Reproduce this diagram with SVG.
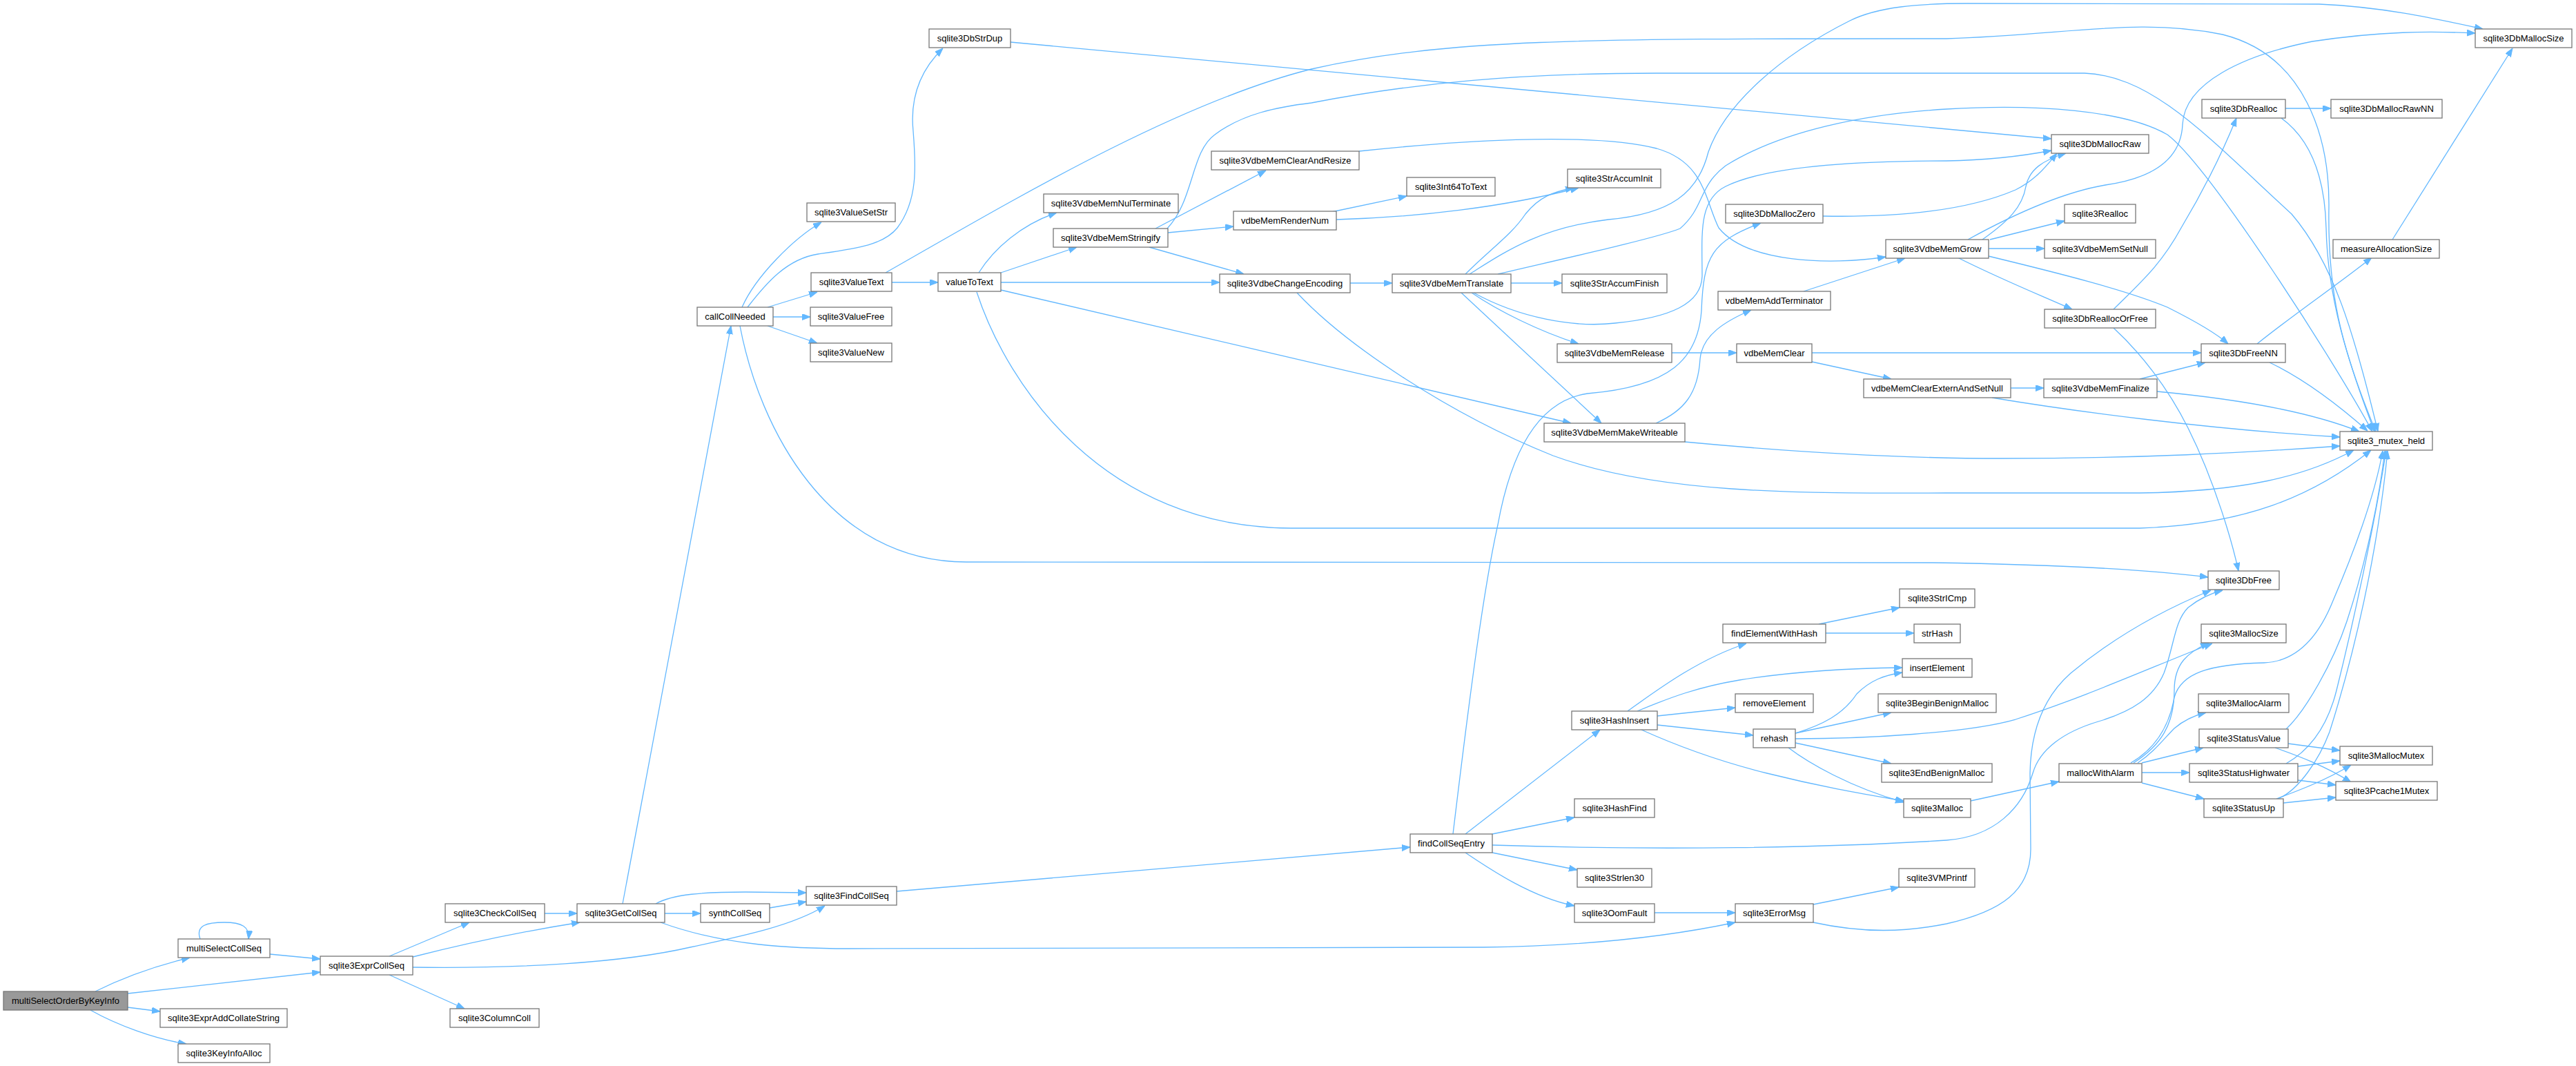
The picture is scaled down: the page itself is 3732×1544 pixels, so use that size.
<svg xmlns="http://www.w3.org/2000/svg" width="3732" height="1544" viewBox="0 0 3732 1544">
<style>
.n rect{fill:#ffffff;stroke:#777777;stroke-width:1.3}
.root rect{fill:#999999}
.n text{font-family:"Liberation Sans",Arial,sans-serif;font-size:13px;fill:#000000;text-anchor:middle}
#edges path{fill:none;stroke:#63b8ff;stroke-width:1.3;marker-end:url(#a)}
</style>
<defs>
<marker id="a" markerWidth="12" markerHeight="10" refX="12" refY="4.5" orient="auto" markerUnits="userSpaceOnUse"><path d="M0,0 L12,4.5 L0,9 z" fill="#63b8ff" stroke="#63b8ff" stroke-width="1"/></marker>
</defs>
<rect width="3732" height="1544" fill="#ffffff"/>
<g id="edges">
<path d="M138,1436 Q200,1405 275,1387"/>
<path d="M290,1360 C283,1340 300,1336 325,1336 C350,1336 362,1342 360,1360"/>
<path d="M185,1439 L464,1408"/>
<path d="M391,1382 L464,1389"/>
<path d="M185,1459 L232,1465"/>
<path d="M131,1463 C170,1485 225,1505 270,1512"/>
<path d="M564,1385 L680,1336"/>
<path d="M598,1386 Q720,1355 840,1336"/>
<path d="M598,1401 C750,1403 900,1395 1000,1372 C1080,1355 1150,1340 1195,1312"/>
<path d="M564,1412 L673,1461"/>
<path d="M789,1323 L836,1323"/>
<path d="M902,1309 L1059,472"/>
<path d="M963,1323 L1015,1323"/>
<path d="M950,1309 C975,1295 1020,1292 1080,1292 L1168,1293"/>
<path d="M957,1336 C1050,1370 1150,1374 1230,1374 L2150,1372 C2300,1370 2420,1356 2514,1336"/>
<path d="M1115,1315 L1168,1306"/>
<path d="M1299,1291 L2043,1227"/>
<path d="M1075,445 C1095,400 1150,345 1190,322"/>
<path d="M1083,445 C1110,410 1140,375 1185,368 C1240,360 1280,355 1300,330 C1330,290 1327,240 1323,190 C1318,140 1335,100 1366,70"/>
<path d="M1112,445 L1184,423"/>
<path d="M1120,459 L1174,459"/>
<path d="M1112,472 L1184,497"/>
<path d="M1072,472 C1100,620 1200,814 1400,814 L2800,815 C3000,818 3120,826 3199,836"/>
<path d="M1464,61 L2972,201"/>
<path d="M1292,409 L1359,409"/>
<path d="M1283,395 C1450,300 1700,150 1900,100 C2100,55 2300,56 2820,56 C3000,50 3100,25 3220,50 C3340,80 3375,200 3374,300 C3372,420 3390,500 3442,625"/>
<path d="M1418,395 C1440,360 1480,325 1531,308"/>
<path d="M1450,395 L1560,358"/>
<path d="M1450,409 L1767,409"/>
<path d="M1450,420 L2276,613"/>
<path d="M1415,423 C1460,560 1600,764 1870,765 L3100,765 C3250,760 3350,720 3435,652"/>
<path d="M1674,331 L1834,247"/>
<path d="M1692,337 L1787,328"/>
<path d="M1665,358 L1802,397"/>
<path d="M1691,331 C1730,290 1725,220 1760,195 C1800,165 1850,155 1900,149 C2050,120 2200,106 2400,106 L3020,106 C3120,110 3200,200 3320,310 C3380,380 3410,480 3445,625"/>
<path d="M1969,219 C2100,205 2300,190 2400,215 C2470,235 2470,290 2490,330 C2530,380 2650,385 2732,372"/>
<path d="M1929,307 L2038,284"/>
<path d="M1936,318 C2050,315 2180,300 2287,272"/>
<path d="M1956,410 L2017,410"/>
<path d="M1879,424 C1950,500 2100,600 2250,660 C2400,715 2600,715 2820,714 L3100,714 C3250,712 3340,690 3410,652"/>
<path d="M2123,397 C2160,360 2190,340 2210,310 C2230,285 2250,278 2280,272"/>
<path d="M2129,397 C2180,365 2230,330 2330,318 C2420,310 2460,280 2475,220 C2500,150 2580,80 2680,30 C2720,10 2780,5 2850,5 L3360,6 C3450,10 3520,25 3597,42"/>
<path d="M2170,397 C2250,378 2400,345 2434,331 C2470,300 2460,270 2500,240 C2580,190 2700,165 2820,158 C2950,150 3080,160 3140,195 C3200,240 3380,520 3437,625"/>
<path d="M2189,410 L2263,410"/>
<path d="M2132,424 C2170,450 2230,480 2287,498"/>
<path d="M2117,424 L2320,613"/>
<path d="M2135,424 C2200,460 2280,475 2340,468 C2420,460 2465,440 2466,400 C2466,340 2460,290 2500,270 C2560,240 2700,233 2820,233 C2880,232 2930,226 2972,218"/>
<path d="M2422,511 L2516,511"/>
<path d="M2399,613 C2440,595 2460,570 2463,520 C2466,485 2500,465 2537,449"/>
<path d="M2441,640 C2600,655 2750,664 2900,664 C3100,664 3250,656 3390,646"/>
<path d="M2105,1208 C2130,1000 2150,850 2170,760 C2190,650 2230,580 2300,570 C2420,560 2460,520 2465,450 C2468,370 2480,350 2551,323"/>
<path d="M2641,313 C2750,315 2850,305 2920,275 C2950,260 2965,240 2980,222"/>
<path d="M2613,422 L2760,374"/>
<path d="M2625,511 L3189,511"/>
<path d="M2625,524 L2740,549"/>
<path d="M2851,347 C2900,320 2980,280 3050,268 C3120,258 3160,230 3162,180 C3165,120 3250,80 3350,60 C3450,45 3520,45 3586,48"/>
<path d="M2872,347 C2910,320 2930,300 2935,270 C2940,245 2960,232 2993,222"/>
<path d="M2883,347 L2991,320"/>
<path d="M2881,360 L2962,360"/>
<path d="M2836,373 C2900,405 2950,425 3002,448"/>
<path d="M2881,371 C2980,395 3080,420 3140,445 C3180,465 3210,482 3228,498"/>
<path d="M3062,448 C3100,410 3130,385 3160,330 C3190,280 3220,220 3240,171"/>
<path d="M3062,475 C3100,510 3140,560 3170,620 C3210,700 3235,790 3243,827"/>
<path d="M3311,157 L3377,157"/>
<path d="M3305,171 C3345,200 3368,250 3370,330 C3372,430 3400,520 3440,625"/>
<path d="M3466,347 L3640,70"/>
<path d="M3270,498 C3330,450 3390,410 3436,373"/>
<path d="M3288,525 C3330,545 3380,580 3430,624"/>
<path d="M2913,562 L2961,562"/>
<path d="M2886,576 C3000,595 3200,622 3390,633"/>
<path d="M3100,549 L3195,525"/>
<path d="M3125,567 C3200,574 3330,590 3418,625"/>
<path d="M2123,1208 L2318,1057"/>
<path d="M2162,1208 L2281,1184"/>
<path d="M2162,1235 L2285,1260"/>
<path d="M2123,1235 C2160,1260 2220,1300 2281,1312"/>
<path d="M2162,1224 C2400,1232 2650,1228 2820,1217 C2890,1212 2930,1170 2945,1120 C2955,1085 2990,1060 3040,1045 C3090,1030 3120,1010 3135,975 C3150,935 3150,900 3170,880 C3185,868 3200,860 3220,855"/>
<path d="M2627,1336 C2700,1352 2760,1350 2820,1338 C2900,1320 2942,1290 2942,1230 L2941,1120 C2942,1060 2960,1010 3000,975 C3060,925 3130,885 3203,855"/>
<path d="M2358,1030 C2400,1000 2460,955 2530,932"/>
<path d="M2372,1030 C2420,1010 2460,995 2520,985 C2600,972 2680,968 2756,967"/>
<path d="M2401,1037 L2514,1025"/>
<path d="M2401,1050 L2540,1065"/>
<path d="M2378,1057 C2440,1085 2500,1105 2560,1120 C2640,1140 2700,1150 2758,1160"/>
<path d="M2635,904 L2752,880"/>
<path d="M2645,917 L2773,917"/>
<path d="M2601,1062 C2640,1050 2670,1035 2690,1005 C2710,985 2730,978 2756,974"/>
<path d="M2601,1062 L2740,1032"/>
<path d="M2601,1070 C2700,1070 2850,1062 2920,1042 C3020,1010 3120,965 3205,932"/>
<path d="M2601,1076 L2740,1106"/>
<path d="M2591,1083 C2620,1105 2680,1140 2758,1162"/>
<path d="M2397,1322 L2514,1322"/>
<path d="M2627,1310 L2751,1285"/>
<path d="M2855,1160 L2983,1132"/>
<path d="M3103,1119 L3172,1119"/>
<path d="M3103,1105 L3192,1083"/>
<path d="M3103,1134 L3193,1157"/>
<path d="M3097,1105 C3120,1090 3135,1070 3150,1055 C3165,1042 3180,1036 3196,1032"/>
<path d="M3091,1105 C3130,1080 3150,1050 3150,1000 C3150,960 3170,945 3200,931"/>
<path d="M3087,1105 C3130,1080 3145,1040 3150,1010 C3160,975 3200,962 3280,960 C3330,958 3360,920 3380,870 C3410,800 3440,720 3452,653"/>
<path d="M3315,1077 L3390,1087"/>
<path d="M3296,1083 C3330,1095 3370,1110 3406,1133"/>
<path d="M3329,1110 L3390,1102"/>
<path d="M3329,1130 L3384,1137"/>
<path d="M3308,1163 L3384,1155"/>
<path d="M3298,1157 C3330,1145 3370,1130 3406,1108"/>
<path d="M3312,1056 C3340,1030 3380,960 3400,900 C3420,840 3445,740 3455,653"/>
<path d="M3312,1106 C3340,1090 3370,1060 3385,1000 C3410,900 3440,760 3457,653"/>
<path d="M3300,1157 C3330,1145 3360,1100 3375,1060 C3410,950 3445,800 3459,653"/>
</g>
<g id="multiSelectOrderByKeyInfo" class="n root"><rect x="5" y="1436" width="180" height="27"/><text x="95" y="1454">multiSelectOrderByKeyInfo</text></g>
<g id="multiSelectCollSeq" class="n"><rect x="258" y="1360" width="133" height="27"/><text x="324.5" y="1378">multiSelectCollSeq</text></g>
<g id="sqlite3ExprCollSeq" class="n"><rect x="464" y="1385" width="134" height="27"/><text x="531" y="1403">sqlite3ExprCollSeq</text></g>
<g id="sqlite3ExprAddCollateString" class="n"><rect x="232" y="1461" width="184" height="27"/><text x="324" y="1479">sqlite3ExprAddCollateString</text></g>
<g id="sqlite3KeyInfoAlloc" class="n"><rect x="258" y="1512" width="133" height="27"/><text x="324.5" y="1530">sqlite3KeyInfoAlloc</text></g>
<g id="sqlite3CheckCollSeq" class="n"><rect x="645" y="1309" width="144" height="27"/><text x="717" y="1327">sqlite3CheckCollSeq</text></g>
<g id="sqlite3ColumnColl" class="n"><rect x="652" y="1461" width="129" height="27"/><text x="716.5" y="1479">sqlite3ColumnColl</text></g>
<g id="sqlite3GetCollSeq" class="n"><rect x="836" y="1309" width="127" height="27"/><text x="899.5" y="1327">sqlite3GetCollSeq</text></g>
<g id="callCollNeeded" class="n"><rect x="1010" y="445" width="110" height="27"/><text x="1065" y="463">callCollNeeded</text></g>
<g id="synthCollSeq" class="n"><rect x="1015" y="1309" width="100" height="27"/><text x="1065" y="1327">synthCollSeq</text></g>
<g id="sqlite3FindCollSeq" class="n"><rect x="1168" y="1284" width="131" height="27"/><text x="1233.5" y="1302">sqlite3FindCollSeq</text></g>
<g id="sqlite3DbStrDup" class="n"><rect x="1346" y="42" width="118" height="27"/><text x="1405" y="60">sqlite3DbStrDup</text></g>
<g id="sqlite3ValueSetStr" class="n"><rect x="1169" y="294" width="128" height="27"/><text x="1233" y="312">sqlite3ValueSetStr</text></g>
<g id="sqlite3ValueText" class="n"><rect x="1175" y="395" width="117" height="27"/><text x="1233.5" y="413">sqlite3ValueText</text></g>
<g id="sqlite3ValueFree" class="n"><rect x="1174" y="445" width="118" height="27"/><text x="1233" y="463">sqlite3ValueFree</text></g>
<g id="sqlite3ValueNew" class="n"><rect x="1174" y="497" width="118" height="27"/><text x="1233" y="515">sqlite3ValueNew</text></g>
<g id="valueToText" class="n"><rect x="1359" y="395" width="91" height="27"/><text x="1404.5" y="413">valueToText</text></g>
<g id="sqlite3VdbeMemNulTerminate" class="n"><rect x="1512" y="281" width="195" height="27"/><text x="1609.5" y="299">sqlite3VdbeMemNulTerminate</text></g>
<g id="sqlite3VdbeMemStringify" class="n"><rect x="1526" y="331" width="166" height="27"/><text x="1609" y="349">sqlite3VdbeMemStringify</text></g>
<g id="sqlite3VdbeMemClearAndResize" class="n"><rect x="1755" y="219" width="214" height="27"/><text x="1862" y="237">sqlite3VdbeMemClearAndResize</text></g>
<g id="vdbeMemRenderNum" class="n"><rect x="1787" y="306" width="149" height="27"/><text x="1861.5" y="324">vdbeMemRenderNum</text></g>
<g id="sqlite3VdbeChangeEncoding" class="n"><rect x="1767" y="397" width="189" height="27"/><text x="1861.5" y="415">sqlite3VdbeChangeEncoding</text></g>
<g id="sqlite3Int64ToText" class="n"><rect x="2038" y="257" width="128" height="27"/><text x="2102" y="275">sqlite3Int64ToText</text></g>
<g id="sqlite3StrAccumInit" class="n"><rect x="2271" y="245" width="135" height="27"/><text x="2338.5" y="263">sqlite3StrAccumInit</text></g>
<g id="sqlite3VdbeMemTranslate" class="n"><rect x="2017" y="397" width="172" height="27"/><text x="2103" y="415">sqlite3VdbeMemTranslate</text></g>
<g id="sqlite3StrAccumFinish" class="n"><rect x="2263" y="397" width="152" height="27"/><text x="2339" y="415">sqlite3StrAccumFinish</text></g>
<g id="sqlite3VdbeMemRelease" class="n"><rect x="2256" y="498" width="166" height="27"/><text x="2339" y="516">sqlite3VdbeMemRelease</text></g>
<g id="sqlite3VdbeMemMakeWriteable" class="n"><rect x="2237" y="613" width="204" height="27"/><text x="2339" y="631">sqlite3VdbeMemMakeWriteable</text></g>
<g id="sqlite3DbMallocZero" class="n"><rect x="2500" y="296" width="141" height="27"/><text x="2570.5" y="314">sqlite3DbMallocZero</text></g>
<g id="vdbeMemAddTerminator" class="n"><rect x="2489" y="422" width="163" height="27"/><text x="2570.5" y="440">vdbeMemAddTerminator</text></g>
<g id="vdbeMemClear" class="n"><rect x="2516" y="498" width="109" height="27"/><text x="2570.5" y="516">vdbeMemClear</text></g>
<g id="sqlite3VdbeMemGrow" class="n"><rect x="2732" y="347" width="149" height="27"/><text x="2806.5" y="365">sqlite3VdbeMemGrow</text></g>
<g id="vdbeMemClearExternAndSetNull" class="n"><rect x="2700" y="549" width="213" height="27"/><text x="2806.5" y="567">vdbeMemClearExternAndSetNull</text></g>
<g id="sqlite3DbMallocRaw" class="n"><rect x="2972" y="195" width="141" height="27"/><text x="3042.5" y="213">sqlite3DbMallocRaw</text></g>
<g id="sqlite3Realloc" class="n"><rect x="2991" y="296" width="103" height="27"/><text x="3042.5" y="314">sqlite3Realloc</text></g>
<g id="sqlite3VdbeMemSetNull" class="n"><rect x="2962" y="347" width="161" height="27"/><text x="3042.5" y="365">sqlite3VdbeMemSetNull</text></g>
<g id="sqlite3DbReallocOrFree" class="n"><rect x="2962" y="448" width="161" height="27"/><text x="3042.5" y="466">sqlite3DbReallocOrFree</text></g>
<g id="sqlite3VdbeMemFinalize" class="n"><rect x="2961" y="549" width="164" height="27"/><text x="3043" y="567">sqlite3VdbeMemFinalize</text></g>
<g id="sqlite3DbRealloc" class="n"><rect x="3190" y="144" width="121" height="27"/><text x="3250.5" y="162">sqlite3DbRealloc</text></g>
<g id="sqlite3DbFreeNN" class="n"><rect x="3189" y="498" width="122" height="27"/><text x="3250" y="516">sqlite3DbFreeNN</text></g>
<g id="sqlite3DbMallocRawNN" class="n"><rect x="3377" y="144" width="161" height="27"/><text x="3457.5" y="162">sqlite3DbMallocRawNN</text></g>
<g id="measureAllocationSize" class="n"><rect x="3380" y="347" width="154" height="27"/><text x="3457" y="365">measureAllocationSize</text></g>
<g id="sqlite3_mutex_held" class="n"><rect x="3390" y="625" width="134" height="27"/><text x="3457" y="643">sqlite3_mutex_held</text></g>
<g id="sqlite3DbMallocSize" class="n"><rect x="3586" y="42" width="140" height="27"/><text x="3656" y="60">sqlite3DbMallocSize</text></g>
<g id="findCollSeqEntry" class="n"><rect x="2043" y="1208" width="119" height="27"/><text x="2102.5" y="1226">findCollSeqEntry</text></g>
<g id="sqlite3HashInsert" class="n"><rect x="2277" y="1030" width="124" height="27"/><text x="2339" y="1048">sqlite3HashInsert</text></g>
<g id="sqlite3HashFind" class="n"><rect x="2281" y="1157" width="116" height="27"/><text x="2339" y="1175">sqlite3HashFind</text></g>
<g id="sqlite3Strlen30" class="n"><rect x="2285" y="1258" width="108" height="27"/><text x="2339" y="1276">sqlite3Strlen30</text></g>
<g id="sqlite3OomFault" class="n"><rect x="2281" y="1309" width="116" height="27"/><text x="2339" y="1327">sqlite3OomFault</text></g>
<g id="findElementWithHash" class="n"><rect x="2496" y="904" width="149" height="27"/><text x="2570.5" y="922">findElementWithHash</text></g>
<g id="removeElement" class="n"><rect x="2514" y="1005" width="113" height="27"/><text x="2570.5" y="1023">removeElement</text></g>
<g id="rehash" class="n"><rect x="2540" y="1056" width="61" height="27"/><text x="2570.5" y="1074">rehash</text></g>
<g id="sqlite3ErrorMsg" class="n"><rect x="2514" y="1309" width="113" height="27"/><text x="2570.5" y="1327">sqlite3ErrorMsg</text></g>
<g id="sqlite3StrICmp" class="n"><rect x="2752" y="853" width="109" height="27"/><text x="2806.5" y="871">sqlite3StrICmp</text></g>
<g id="strHash" class="n"><rect x="2773" y="904" width="67" height="27"/><text x="2806.5" y="922">strHash</text></g>
<g id="insertElement" class="n"><rect x="2756" y="954" width="101" height="27"/><text x="2806.5" y="972">insertElement</text></g>
<g id="sqlite3BeginBenignMalloc" class="n"><rect x="2721" y="1005" width="171" height="27"/><text x="2806.5" y="1023">sqlite3BeginBenignMalloc</text></g>
<g id="sqlite3EndBenignMalloc" class="n"><rect x="2726" y="1106" width="160" height="27"/><text x="2806" y="1124">sqlite3EndBenignMalloc</text></g>
<g id="sqlite3Malloc" class="n"><rect x="2758" y="1157" width="97" height="27"/><text x="2806.5" y="1175">sqlite3Malloc</text></g>
<g id="sqlite3VMPrintf" class="n"><rect x="2751" y="1258" width="110" height="27"/><text x="2806" y="1276">sqlite3VMPrintf</text></g>
<g id="sqlite3DbFree" class="n"><rect x="3199" y="827" width="103" height="27"/><text x="3250.5" y="845">sqlite3DbFree</text></g>
<g id="sqlite3MallocSize" class="n"><rect x="3189" y="904" width="123" height="27"/><text x="3250.5" y="922">sqlite3MallocSize</text></g>
<g id="sqlite3MallocAlarm" class="n"><rect x="3185" y="1005" width="131" height="27"/><text x="3250.5" y="1023">sqlite3MallocAlarm</text></g>
<g id="sqlite3StatusValue" class="n"><rect x="3186" y="1056" width="129" height="27"/><text x="3250.5" y="1074">sqlite3StatusValue</text></g>
<g id="mallocWithAlarm" class="n"><rect x="2983" y="1106" width="120" height="27"/><text x="3043" y="1124">mallocWithAlarm</text></g>
<g id="sqlite3StatusHighwater" class="n"><rect x="3172" y="1106" width="157" height="27"/><text x="3250.5" y="1124">sqlite3StatusHighwater</text></g>
<g id="sqlite3StatusUp" class="n"><rect x="3193" y="1157" width="115" height="27"/><text x="3250.5" y="1175">sqlite3StatusUp</text></g>
<g id="sqlite3MallocMutex" class="n"><rect x="3390" y="1081" width="134" height="27"/><text x="3457" y="1099">sqlite3MallocMutex</text></g>
<g id="sqlite3Pcache1Mutex" class="n"><rect x="3384" y="1132" width="147" height="27"/><text x="3457.5" y="1150">sqlite3Pcache1Mutex</text></g>
</svg>
